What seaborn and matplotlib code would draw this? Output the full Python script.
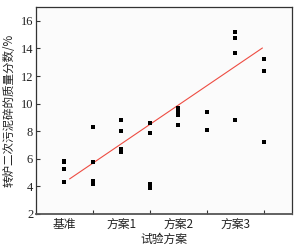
import pandas as pd
import matplotlib.pyplot as plt
import seaborn as sns

# columns of points: category centres and the half-way ticks between them
col_x = [1, 1.5, 2, 2.5, 3, 3.5, 4, 4.5]
col_vals = [
    [5.84, 5.75, 5.25, 4.3],
    [8.3, 5.8, 4.37, 4.2],
    [8.8, 8.0, 6.74, 6.47],
    [8.62, 7.85, 4.2, 3.9],
    [9.65, 9.4, 9.2, 8.45],
    [9.4, 8.1],
    [15.2, 14.75, 13.65, 8.8],
    [13.25, 12.35, 7.25],
]

# trend line end points
fit_x = [1.09, 4.48]
fit_y = [4.54, 14.03]

cat_pos = [1, 2, 3, 4]
cat_labels = ["基准", "方案1", "方案2", "方案3"]
boundary_ticks = [1.5, 2.5, 3.5, 4.5]

rows = []
for x, vals in zip(col_x, col_vals):
    for v in vals:
        rows.append({"x": x, "y": v})
df = pd.DataFrame(rows)

sns.set_theme(style="white")
plt.rcParams["font.family"] = ["Liberation Serif", "Noto Sans CJK SC"]

fig = plt.figure(figsize=(2.99, 2.52), dpi=100)
ax = fig.add_axes([0.1204, 0.1508, 0.8562, 0.8214])
ax.set_facecolor("#fbfbfb")

sns.scatterplot(data=df, x="x", y="y", marker="s", s=11, color="black",
                edgecolor="black", linewidth=0, ax=ax, zorder=3)
sns.lineplot(x=fit_x, y=fit_y, color="#ee4c42", linewidth=0.8, ax=ax, zorder=2)

ax.set_xlim(0.5, 5.0)
ax.set_ylim(2, 17)
ax.set_yticks([2, 4, 6, 8, 10, 12, 14, 16])
ax.set_xticks(cat_pos)
ax.set_xticklabels(cat_labels, family=["Noto Sans CJK SC"])
ax.set_xticks(boundary_ticks, minor=True)
ax.tick_params(axis="x", which="major", length=0, pad=3, labelsize=8.5, colors="#222222")
ax.tick_params(axis="x", which="minor", direction="in", length=3, width=0.8, color="#333333", bottom=True)
ax.tick_params(axis="y", direction="in", length=3, width=0.8, pad=2, labelsize=9,
               color="#333333", labelcolor="#222222", left=True)

for s in ax.spines.values():
    s.set_color("#333333")
    s.set_linewidth(0.9)
ax.spines["bottom"].set_color("#555555")
ax.spines["bottom"].set_linewidth(1.3)

ax.set_xlabel("试验方案", family=["Noto Sans CJK SC"], fontsize=8.5, color="#222222", labelpad=1)
ax.set_ylabel("转炉二次污泥碎的质量分数/%", family=["Noto Sans CJK SC", "Liberation Serif"],
              fontsize=8.3, color="#222222", labelpad=4)

fig.savefig("out.png", dpi=100)
